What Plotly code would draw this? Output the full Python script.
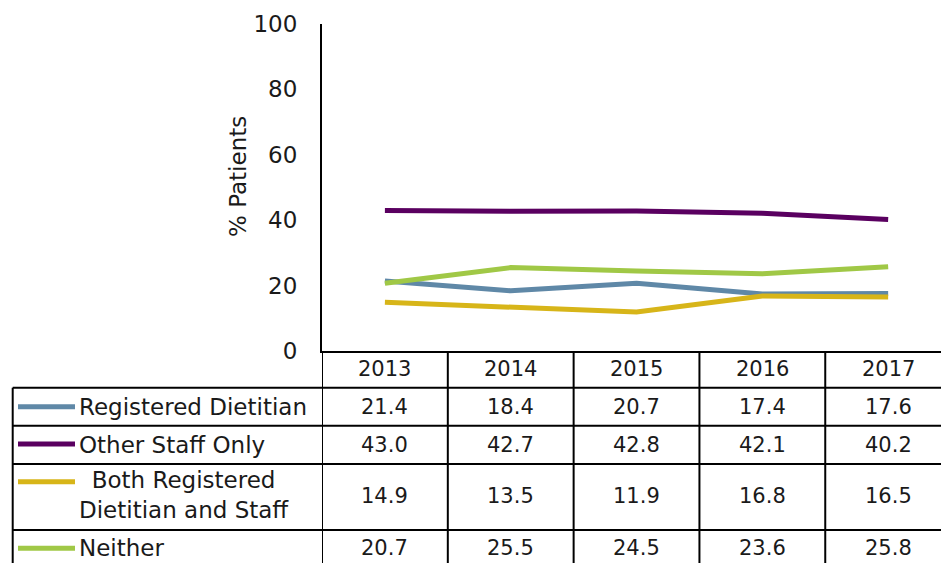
import plotly.graph_objects as go

years = ["2013", "2014", "2015", "2016", "2017"]
series_names = ["Registered Dietitian", "Other Staff Only", "Both Registered<br>Dietitian and Staff", "Neither"]
registered_dietitian = [21.4, 18.4, 20.7, 17.4, 17.6]
other_staff_only = [43.0, 42.7, 42.8, 42.1, 40.2]
both_rd_and_staff = [14.9, 13.5, 11.9, 16.8, 16.5]
neither = [20.7, 25.5, 24.5, 23.6, 25.8]
y_ticks = [0, 20, 40, 60, 80, 100]

series_values = [registered_dietitian, other_staff_only, both_rd_and_staff, neither]
colors = ["#5F88A7", "#5A0060", "#D7B519", "#A0C846"]

W, H = 941, 563
FONT = "DejaVu Sans"
FS = 21
FS_LABEL = 23


def px_x(p):
    return p / W


def px_y(p):
    return 1 - p / H


x_idx = list(range(len(years)))

fig = go.Figure()
for name, vals, col in zip(series_names, series_values, colors):
    fig.add_trace(go.Scatter(x=x_idx, y=vals, mode="lines", name=name.replace("<br>", " "),
                             line=dict(color=col, width=5), showlegend=False))

plot_top, plot_bottom = 24, 351
fig.update_layout(
    width=W, height=H,
    margin=dict(l=0, r=0, t=0, b=0, pad=0, autoexpand=False),
    plot_bgcolor="white", paper_bgcolor="white",
    font=dict(family=FONT, size=FS, color="#1a1a1a"),
    xaxis=dict(domain=[px_x(322), 1], range=[-0.5, 4.42], showticklabels=False,
               showgrid=False, zeroline=False, showline=True, linecolor="black", linewidth=2,
               fixedrange=True, automargin=False),
    yaxis=dict(domain=[px_y(plot_bottom), px_y(plot_top)], range=[0, 100], tickvals=y_ticks,
               showgrid=False, zeroline=False, showline=True, linecolor="black", linewidth=2,
               ticks="", ticklabelstandoff=18, tickfont=dict(size=23, family=FONT),
               fixedrange=True, automargin=False),
)

# table geometry (pixels)
row_lines = [387.7, 425.7, 464, 530]
row_centers = [406.7, 444.5, 496, 548]
header_center = 368.7
table_left = 12.7
table_bottom = 563
line_style = dict(color="black", width=2)

shapes = []
for ry in row_lines:
    shapes.append(dict(type="line", xref="paper", yref="paper", x0=px_x(table_left), x1=1,
                       y0=px_y(ry), y1=px_y(ry), line=line_style))
shapes.append(dict(type="line", xref="paper", yref="paper", x0=px_x(table_left), x1=px_x(table_left),
                   y0=px_y(row_lines[0]), y1=px_y(table_bottom), line=line_style))
for i in range(len(years)):
    shapes.append(dict(type="line", xref="x", yref="paper", x0=i - 0.5, x1=i - 0.5,
                       y0=px_y(plot_bottom), y1=px_y(table_bottom), line=line_style))

annotations = []
for i, yr in enumerate(years):
    annotations.append(dict(x=i, y=px_y(header_center), xref="x", yref="paper", text=yr,
                            showarrow=False, xanchor="center", yanchor="middle",
                            font=dict(size=FS)))

legend_line_y = [406.7, 444, 481.7, 548.3]
for r, (name, vals, col) in enumerate(zip(series_names, series_values, colors)):
    for i, v in enumerate(vals):
        annotations.append(dict(x=i, y=px_y(row_centers[r]), xref="x", yref="paper",
                                text=f"{v:.1f}", showarrow=False, xanchor="center",
                                yanchor="middle", font=dict(size=FS)))
    annotations.append(dict(x=px_x(77), y=px_y(row_centers[r] - 1 if r == 2 else row_centers[r]),
                            xref="paper", yref="paper", text=name, showarrow=False,
                            xanchor="left", yanchor="middle", align="center",
                            font=dict(size=FS_LABEL)))
    shapes.append(dict(type="line", xref="paper", yref="paper", x0=px_x(18), x1=px_x(75),
                       y0=px_y(legend_line_y[r]), y1=px_y(legend_line_y[r]),
                       line=dict(color=col, width=5)))

annotations.append(dict(x=px_x(238), y=px_y(177), xref="paper", yref="paper", text="% Patients",
                        showarrow=False, textangle=-90, xanchor="center", yanchor="middle",
                        font=dict(size=FS_LABEL)))

fig.update_layout(shapes=shapes, annotations=annotations)
fig.write_html("out.html", config={"displayModeBar": False},
               post_script="document.body.style.margin='0';")
